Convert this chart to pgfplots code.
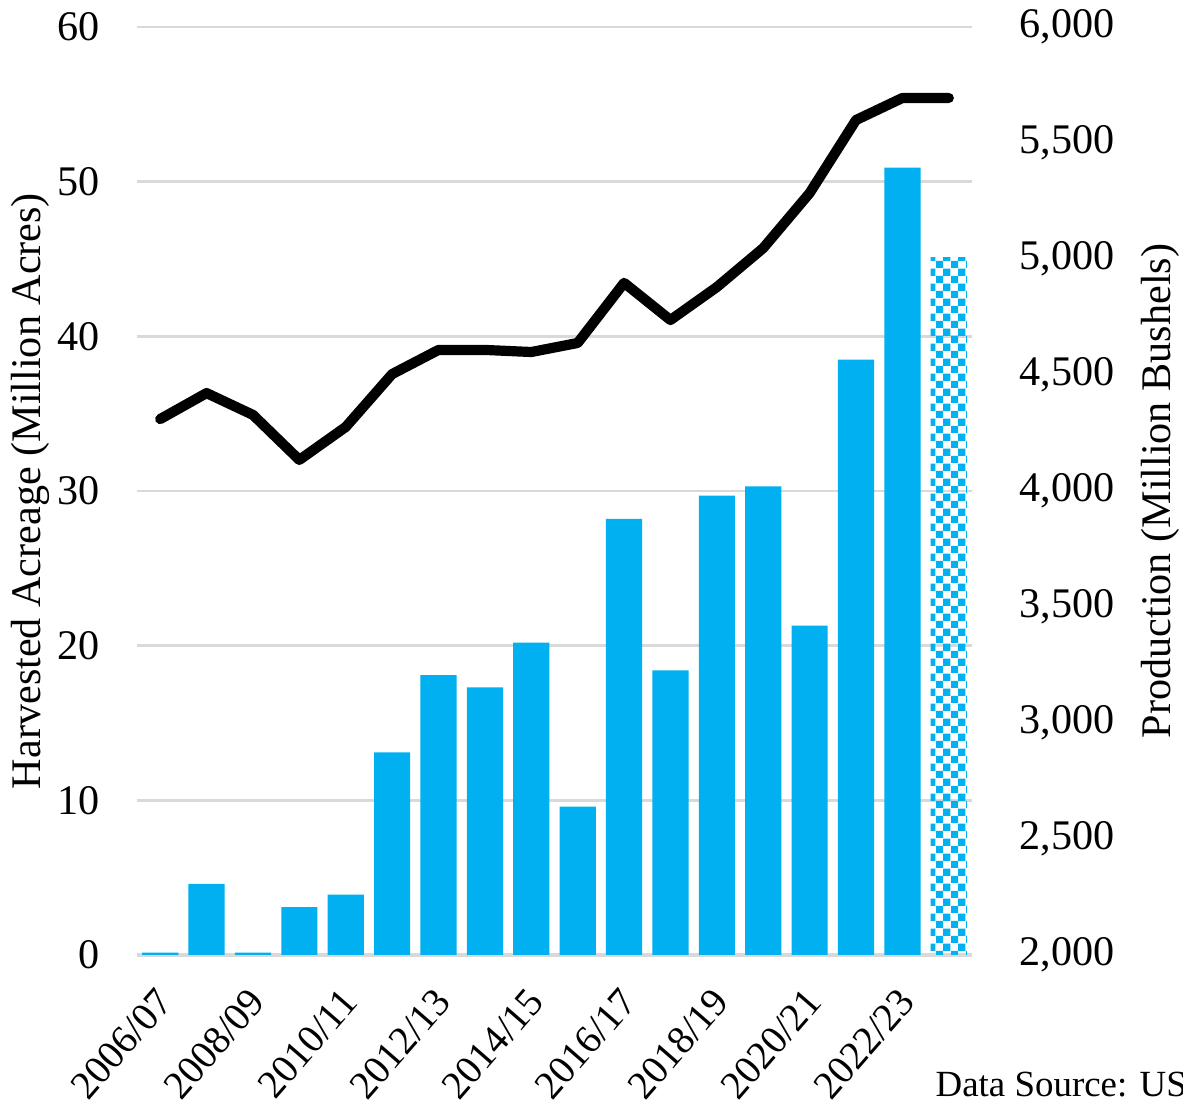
\documentclass[border=0pt]{standalone}
\usepackage{fontspec}
\setmainfont{Liberation Serif}
\usepackage{pgfplots}
\pgfplotsset{compat=1.18}
\usetikzlibrary{patterns}
\definecolor{barc}{HTML}{00B0F0}
\definecolor{gridc}{HTML}{D9D9D9}
% small checkerboard for the forecast bar
\pgfdeclarepatternformonly{smallchecks}{\pgfpointorigin}{\pgfqpoint{4.3pt}{4.3pt}}{\pgfqpoint{4.3pt}{4.3pt}}{%
    \pgfpathrectangle{\pgfpointorigin}{\pgfqpoint{2.15pt}{2.15pt}}%
    \pgfpathrectangle{\pgfqpoint{2.15pt}{2.15pt}}{\pgfqpoint{2.15pt}{2.15pt}}%
    \pgfusepath{fill}}

\begin{document}
\begin{tikzpicture}[font=\rmfamily]
\path[use as bounding box] (-1.37,-1.54) rectangle (10.46,9.55);
\pgfplotsset{
    every axis/.append style={
        width=8.35cm, height=9.28cm, scale only axis,
        at={(0,0)}, anchor=south west,
        xmin=-0.5, xmax=17.5,
        font=\rmfamily\fontsize{12}{14}\selectfont,
        /pgf/number format/assume math mode=true,
        major tick length=0pt,
    },
}
% acreage bars, left axis
\begin{axis}[
    ymin=0, ymax=60, ytick={0,10,...,60},
    axis x line=bottom, axis y line*=left,
    x axis line style={gridc, line width=1.2pt, -},
    y axis line style={draw=none},
    ymajorgrids, grid style={gridc, line width=0.8pt},
    xtick={0,2,...,16},
    xticklabels={2006/07,2008/09,2010/11,2012/13,2014/15,2016/17,2018/19,2020/21,2022/23},
    xticklabel style={xshift=-0.06cm, yshift=-0.3cm, rotate=49, anchor=north east, inner sep=0pt,
        font=\rmfamily\fontsize{11.3}{13}\selectfont},
    yticklabel style={xshift=-0.25cm},
    ylabel={Harvested Acreage (Million Acres)},
    ylabel style={at={(axis description cs:-0.128,0.5)}, anchor=center},
]
\addplot[ybar, bar width=0.78, bar shift=0pt, fill=barc, draw=none] coordinates {
    (0,0.15) (1,4.6) (2,0.15) (3,3.1) (4,3.9) (5,13.1) (6,18.1) (7,17.3) (8,20.2)
    (9,9.6) (10,28.2) (11,18.4) (12,29.7) (13,30.3) (14,21.3) (15,38.5) (16,50.9)
};
\addplot[ybar, bar width=0.78, bar shift=0pt, pattern=smallchecks, pattern color=barc, draw=none] coordinates {
    (17,45.1)
};
\end{axis}
% production line, right axis
\begin{axis}[
    ymin=2000, ymax=6000, ytick={2000,2500,...,6000},
    axis x line=none, axis y line*=right,
    y axis line style={draw=none},
    yticklabel style={xshift=0.35cm, /pgf/number format/.cd, fixed, 1000 sep={,}},
    ylabel={Production (Million Bushels)},
    ylabel style={at={(axis description cs:1.225,0.5)}, anchor=center},
]
\addplot[black, line width=2.9pt, line join=round, line cap=round, mark=none] coordinates {
    (0,4310) (1,4422) (2,4328) (3,4134) (4,4276) (5,4504) (6,4608) (7,4608) (8,4599)
    (9,4638) (10,4897) (11,4737) (12,4879) (13,5047) (14,5284) (15,5599) (16,5694) (17,5694)
};
\end{axis}
\node[anchor=base west, inner sep=0pt, font=\rmfamily\fontsize{10.5}{12}\selectfont] at (7.98,-1.42) {Data Source: US};
\end{tikzpicture}
\end{document}
